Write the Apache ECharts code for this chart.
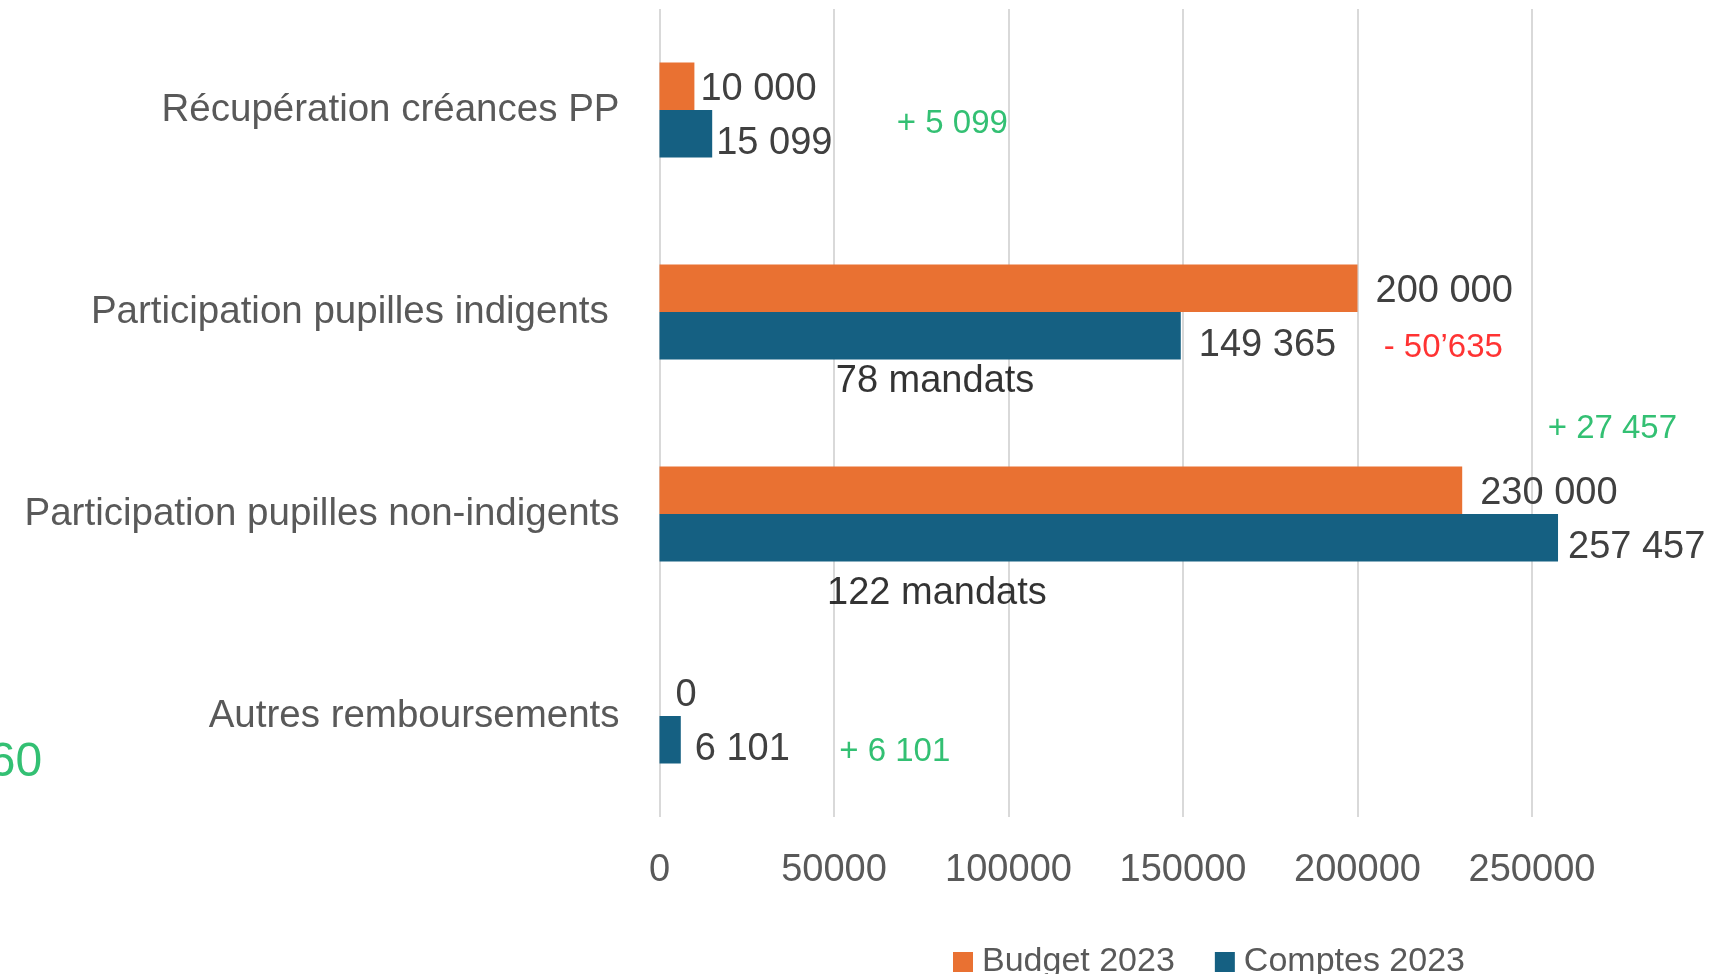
<!DOCTYPE html>
<html>
<head>
<meta charset="utf-8">
<script src="https://cdn.jsdelivr.net/npm/echarts@6/dist/echarts.min.js"></script>
<style>
  html, body { margin: 0; padding: 0; background: #fff; }
  #chart { width: 1732px; height: 974px; }
</style>
</head>
<body>
<div id="chart"></div>
<script>
var categories = ['Récupération créances PP', 'Participation pupilles indigents ', 'Participation pupilles non-indigents', 'Autres remboursements'];
var budget2023 = [10000, 200000, 230000, 0];
var comptes2023 = [15099, 149365, 257457, 6101];

// gap between bar end and its value label (px), moved by hand in the original
var budgetLabelGap = [6, 18, 18, 16];
var comptesLabelGap = [4, 18, 10, 14];

// annotations: x in axis value, y in category units (0 = top of first band)
var noteTexts = ['+ 5 099', '- 50\u2019635', '+ 27 457', '+ 6 101', '78 mandats', '122 mandats', '60'];
var noteX = [68000, 207500, 254500, 51500, 50500, 48000, -176900];
var noteY = [0.57, 1.68, 2.08, 3.68, 1.845, 2.895, 3.73];
var noteKind = ['up', 'down', 'up', 'up', 'count', 'count', 'big'];

var FONT = "'Liberation Sans Narrow', 'Liberation Sans', sans-serif";
var noteStyles = {
    up:    { color: '#00B050', fontSize: 33, position: 'right' },
    down:  { color: '#FF0000', fontSize: 33, position: 'right' },
    count: { color: '#000000', fontSize: 38, position: 'right' },
    big:   { color: '#00B050', fontSize: 48, position: 'left' }
};

function fmt(v) {
    return String(v).replace(/\B(?=(\d{3})+(?!\d))/g, ' ');
}

var chart = echarts.init(document.getElementById('chart'));

var notes = [];
for (var i = 0; i < noteTexts.length; i++) {
    var st = noteStyles[noteKind[i]];
    notes.push({
        value: [noteX[i], noteY[i]],
        label: {
            show: true,
            formatter: noteTexts[i],
            position: st.position,
            distance: 0,
            color: st.color,
            fontSize: st.fontSize,
            fontFamily: FONT
        }
    });
}

var budgetData = budget2023.map(function (v, k) {
    return { value: v, label: { distance: budgetLabelGap[k] } };
});
var comptesData = comptes2023.map(function (v, k) {
    return { value: v, label: { distance: comptesLabelGap[k] } };
});

chart.setOption({
    animation: false,
    textStyle: { fontFamily: FONT },
    grid: { left: 659.5, right: 200, top: 9, bottom: 157 },
    legend: {
        data: ['Budget 2023', 'Comptes 2023'],
        left: 948,
        top: 940,
        icon: 'rect',
        itemWidth: 20,
        itemHeight: 20,
        itemGap: 40,
        textStyle: { fontSize: 34, color: '#595959', fontFamily: FONT, padding: [0, 0, 0, 4] }
    },
    xAxis: {
        type: 'value',
        min: 0,
        max: 250000,
        interval: 50000,
        axisLine: { show: false },
        axisTick: { show: false },
        axisLabel: { color: '#595959', fontSize: 38, margin: 35, fontFamily: FONT, formatter: function (v) { return String(v); } },
        splitLine: { show: true, lineStyle: { color: '#D9D9D9', width: 2 } }
    },
    yAxis: [{
        type: 'category',
        inverse: true,
        data: categories,
        axisLine: { show: false },
        axisTick: { show: false },
        axisLabel: { color: '#595959', fontSize: 38.5, margin: 40, fontFamily: FONT }
    }, {
        type: 'value',
        inverse: true,
        min: 0,
        max: 4,
        show: false
    }],
    series: [{
        name: 'Budget 2023',
        type: 'bar',
        data: budgetData,
        barGap: '0%',
        barCategoryGap: '53%',
        clip: false,
        itemStyle: { color: '#E97132' },
        label: {
            show: true,
            position: 'right',
            offset: [0, 3],
            color: '#404040',
            fontSize: 38,
            fontFamily: FONT,
            formatter: function (p) { return fmt(p.value); }
        }
    }, {
        name: 'Comptes 2023',
        type: 'bar',
        data: comptesData,
        clip: false,
        itemStyle: { color: '#156082' },
        label: {
            show: true,
            position: 'right',
            offset: [0, 10],
            color: '#404040',
            fontSize: 38,
            fontFamily: FONT,
            formatter: function (p) { return fmt(p.value); }
        }
    }, {
        name: 'notes',
        type: 'scatter',
        yAxisIndex: 1,
        symbolSize: 0,
        clip: false,
        silent: true,
        data: notes
    }]
});
</script>
</body>
</html>
